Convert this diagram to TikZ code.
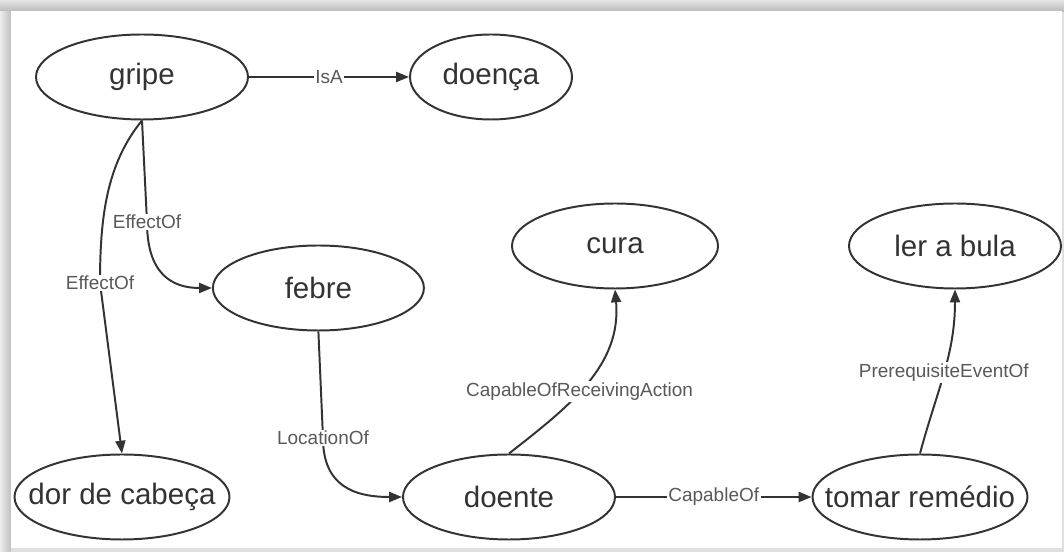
\documentclass[tikz,border=0pt]{standalone}
\usepackage{fontspec}
\setmainfont{Liberation Sans}
\usetikzlibrary{shapes.geometric,arrows.meta}

\newcommand{\nometxt}[1]{\makebox[0pt]{#1}}

\tikzset{
  conceito/.style={ellipse, draw=black!80, line width=1.4pt,
    minimum width=5.3cm, minimum height=2.125cm, inner sep=0pt,
    text=black!80, font=\fontsize{21}{25}\selectfont},
  rel/.style={draw=black!80, line width=1.4pt,
    -{Triangle[length=0.32cm, width=0.25cm]}},
  rotulo/.style={fill=white, inner sep=1pt, text=black!65,
    font=\fontsize{13.5}{16}\selectfont}
}

\begin{document}
\begin{tikzpicture}
  \useasboundingbox (0,0) rectangle (26.6,13.8);
  % moldura com sombra
  \fill[gray!25] (0,0) rectangle (26.6,13.8);
  \shade[top color=gray!20, bottom color=gray!55] (0,13.52) rectangle (26.6,13.8);
  \shade[left color=gray!15, right color=gray!50] (0,0) rectangle (0.27,13.52);
  \fill[white] (0.27,0.1) rectangle (26.55,13.52);

  \node[conceito] (gripe) at (3.55,11.875) {\nometxt{gripe}};
  \node[conceito, minimum width=4.05cm] (doenca) at (12.275,11.875) {\nometxt{doença}};
  \node[conceito, minimum width=5.275cm] (febre) at (7.96,6.6) {\nometxt{febre}};
  \node[conceito, minimum width=5.15cm] (cura) at (15.375,7.65) {\nometxt{cura}};
  \node[conceito] (bula) at (23.875,7.65) {\nometxt{ler a bula}};
  \node[conceito, minimum width=5.375cm] (dor) at (3.05,1.375) {\nometxt{dor de cabeça}};
  \node[conceito] (doente) at (12.725,1.375) {\nometxt{doente}};
  \node[conceito, minimum width=5.375cm] (remedio) at (23,1.375) {\nometxt{tomar remédio}};

  \coordinate (effF) at (3.675,8.25);
  \coordinate (effD) at (2.5,6.725);
  \coordinate (loc) at (8.075,2.85);

  \draw[rel] (gripe) -- node[rotulo] {IsA} (doenca);
  \draw[rel] (gripe.south) -- (effF) node[rotulo] {EffectOf}
    .. controls +(0,-1.3) and +(-1,0) .. (febre.west);
  \draw[rel] (gripe.south) .. controls +(-0.9,-1.1) and +(0,1.6) .. (effD)
    node[rotulo] {EffectOf} -- (dor.north);
  \draw[rel] (febre.south) -- (loc) node[rotulo] {LocationOf}
    .. controls +(0,-1.2) and +(-1.2,0) .. (doente.west);
  \draw[rel] (doente.north) to[out=38, in=-85]
    node[rotulo, pos=0.44] {CapableOfReceivingAction} (cura.south);
  \draw[rel] (doente) -- node[rotulo] {CapableOf} (remedio);
  \draw[rel] (remedio.north) to[out=75, in=-90]
    node[rotulo] {PrerequisiteEventOf} (bula.south);

\end{tikzpicture}
\end{document}
